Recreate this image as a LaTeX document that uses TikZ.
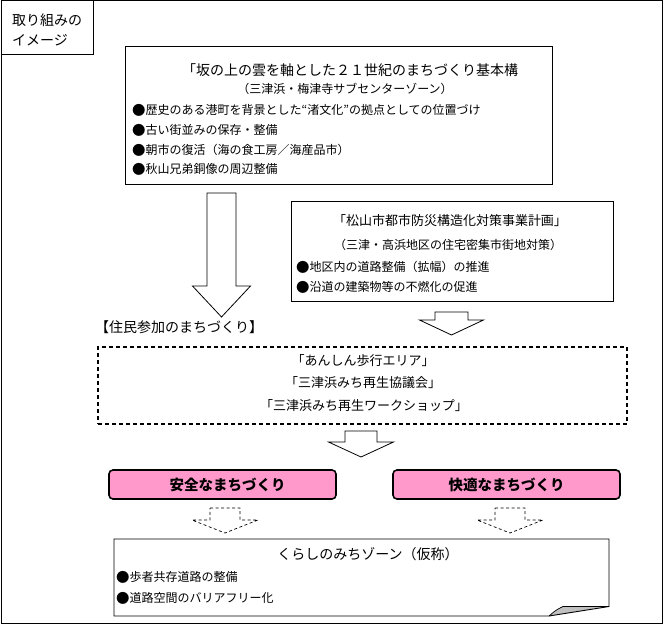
\documentclass[tikz,border=0pt]{standalone}
\usepackage{fontspec}
\setmainfont{Noto Sans CJK JP}
\usetikzlibrary{positioning}
\definecolor{boxpink}{HTML}{FF99CC}
\definecolor{curlgray}{HTML}{C0C0C0}

% hollow down arrow: [style]{centre x}{top}{base of head}{tip}{half shaft}{half head}
\newcommand{\hollowdown}[7][]{%
  \draw[#1] ({#2-#6},#3) -- ({#2+#6},#3) -- ({#2+#6},#4) -- ({#2+#7},#4)
    -- (#2,#5) -- ({#2-#7},#4) -- ({#2-#6},#4) -- cycle;}
% slightly larger list bullet
\newcommand{\dotmark}{\raisebox{-0.03em}{\scalebox{1.12}{●}}}

\tikzset{
  outerframe/.style={draw, line width=1pt},
  plainbox/.style={draw, line width=0.9pt, inner sep=0pt},
  groupbox/.style={draw, dash pattern=on 4pt off 3pt, line width=1.2pt, inner sep=0pt},
  goalbox/.style={draw, line width=1.6pt, fill=boxpink, rounded corners=4pt,
                  inner sep=0pt, font=\bfseries\fontsize{14.5}{16}\selectfont},
  txt/.style={inner sep=0pt, font=\fontsize{12}{14}\selectfont},
  midtxt/.style={inner sep=0pt, font=\fontsize{13}{15}\selectfont},
  headtxt/.style={inner sep=0pt, font=\fontsize{14}{16}\selectfont},
  hollow/.style={draw, line width=0.8pt, fill=white},
  hint/.style={draw, dash pattern=on 3pt off 2.5pt, line width=0.7pt},
}

\begin{document}
\begin{tikzpicture}[x=1pt, y=-1pt]
  \useasboundingbox (0,0) rectangle (665,626);
  \draw[outerframe] (1,0.5) rectangle (662,623);

  % caption box
  \node (caption) [plainbox, minimum width=92pt, minimum height=54pt] at (47,27) {};
  \node (captionA) [headtxt, anchor=west] at (12,20) {取り組みの};
  \node (captionB) [headtxt, anchor=west] at (12,40) {イメージ};

  % basic plan
  \node (basic) [plainbox, minimum width=427pt, minimum height=138pt] at (338.5,115) {};
  \node (basicTitle) [headtxt, anchor=west] at (182,70)
    {「坂の上の雲を軸とした２１世紀のまちづくり基本構};
  \node (basicSub) [txt] at (345,89) {（三津浜・梅津寺サブセンターゾーン）};
  \node (basicA) [txt, anchor=west] at (132,110)
    {\dotmark 歴史のある港町を背景とした“渚文化”の拠点としての位置づけ};
  \node (basicB) [txt, anchor=west] at (132,130) {\dotmark 古い街並みの保存・整備};
  \node (basicC) [txt, anchor=west] at (132,150) {\dotmark 朝市の復活（海の食工房／海産品市）};
  \node (basicD) [txt, anchor=west] at (132,169) {\dotmark 秋山兄弟銅像の周辺整備};

  % disaster plan
  \node (disaster) [plainbox, minimum width=322pt, minimum height=100pt] at (452,251) {};
  \node (disasterTitle) [midtxt] at (450,221) {「松山市都市防災構造化対策事業計画」};
  \node (disasterSub) [txt] at (448,245) {（三津・高浜地区の住宅密集市街地対策）};
  \node (disasterA) [txt, anchor=west] at (296,267) {\dotmark 地区内の道路整備（拡幅）の推進};
  \node (disasterB) [txt, anchor=west] at (296,287) {\dotmark 沿道の建築物等の不燃化の促進};

  % residents
  \node (residentsLabel) [headtxt, anchor=west] at (95,327) {【住民参加のまちづくり】};
  \node (residents) [groupbox, minimum width=529pt, minimum height=77pt] at (362.5,385.5) {};
  \node (residentsA) [midtxt] at (363,361) {「あんしん歩行エリア」};
  \node (residentsB) [midtxt] at (363,383) {「三津浜みち再生協議会」};
  \node (residentsC) [midtxt] at (364,406) {「三津浜みち再生ワークショップ」};

  \hollowdown[hollow]{221.5}{193}{286}{317}{14.5}{29}
  \hollowdown[hollow]{451.5}{312}{320}{335}{16.5}{32}
  \hollowdown[hollow]{361}{431}{442}{457}{16}{32.5}

  % goals
  \node (safe) [goalbox, minimum width=227pt, minimum height=29pt] at (222.5,484.5)
    {\hspace{10pt}安全なまちづくり};
  \node (comfort) [goalbox, minimum width=227pt, minimum height=29pt] at (506.5,484.5)
    {快適なまちづくり};

  \hollowdown[hint]{225}{508}{520}{533}{15}{33}
  \hollowdown[hint]{510}{508}{520}{533}{15}{33}

  % living zone (folded sheet)
  \fill[curlgray] (549,616) .. controls (556,610) .. (563,606.5) -- (609,606) -- cycle;
  \draw[line width=0.9pt] (549,616) -- (114,616) -- (114,539) -- (609,539) -- (609,606.5)
    -- cycle;
  \draw[line width=0.7pt] (549,616) .. controls (556,610) .. (563,606.5) -- (609,606.5);
  \node (zoneTitle) [headtxt] at (368,554) {くらしのみちゾーン（仮称）};
  \node (zoneA) [txt, anchor=west] at (116,577) {\dotmark 歩者共存道路の整備};
  \node (zoneB) [txt, anchor=west] at (116,598) {\dotmark 道路空間のバリアフリー化};
\end{tikzpicture}
\end{document}
